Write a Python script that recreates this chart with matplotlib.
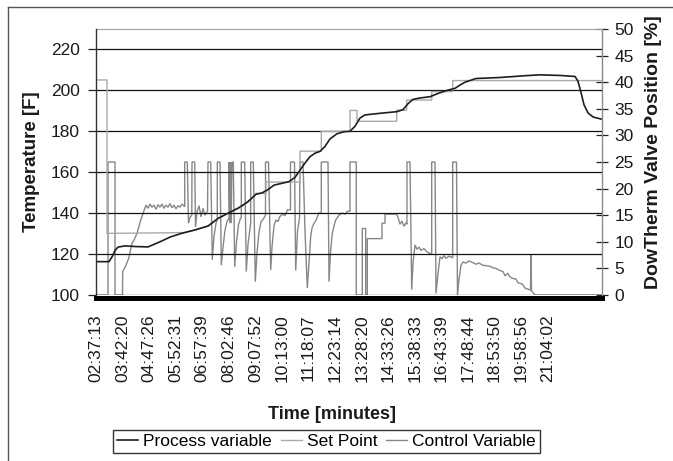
import matplotlib
matplotlib.use("Agg")
import matplotlib.pyplot as plt
from matplotlib.lines import Line2D
import numpy as np

plt.rcParams['font.family'] = ['Liberation Sans', 'DejaVu Sans']

# ---------------- data (time in minutes since 02:37:13) ----------------
tick_labels = ["02:37:13", "03:42:20", "04:47:26", "05:52:31", "06:57:39",
               "08:02:46", "09:07:52", "10:13:00", "11:18:07", "12:23:14",
               "13:28:20", "14:33:26", "15:38:33", "16:43:39", "17:48:44",
               "18:53:50", "19:58:56", "21:04:02"]

pv_t = [0, 31.9, 39.2, 46.6, 53.9, 71.1, 95.6, 127.4, 156.8, 181.3, 210.7, 242.6,
        274.4, 298.9, 323.4, 347.9, 372.4, 392, 406.7, 421.4, 436.1, 455.7, 472.9,
        487.6, 499.8, 512.1, 524.3, 536.6, 548.8, 561.1, 573.3, 590.5, 607.6, 622.3,
        634.6, 646.8, 659.1, 695.8, 737.5, 752.2, 764.4, 776.7, 793.8, 818.3, 837.9,
        860, 879.6, 891.8, 904.1, 931, 989.8, 1053.5, 1087.8, 1136.8, 1173.6, 1180.9,
        1188.3, 1195.6, 1205.4, 1217.7, 1237.3]
pv_val = [116.3, 116.3, 118.6, 121.8, 123.4, 124.0, 123.7, 123.5, 126.0, 128.3, 130.2, 131.8,
          133.7, 137.4, 140.0, 142.4, 145.6, 149.2, 149.9, 151.5, 153.7, 154.6, 155.4,
          157.5, 161.0, 164.5, 167.6, 169.3, 170.2, 172.6, 176.3, 178.8, 179.8, 180.0,
          182.5, 186.5, 188.0, 188.8, 189.6, 190.6, 193.5, 195.6, 196.3, 196.9, 198.5,
          200.0, 201.0, 202.6, 204.0, 205.8, 206.3, 207.2, 207.6, 207.3, 206.8, 204.5,
          199.0, 193.0, 189.0, 187.0, 186.0]

sp_t = [0, 26.95, 26.95, 218, 242.6, 274.4, 298.9, 323.4, 347.9, 364.3, 392, 416.5, 416.5,
        499.8, 499.8, 552, 552, 622.3, 622.3, 639.5, 639.5, 736.7, 736.7, 761.2, 761.2,
        822.5, 822.5, 873.9, 873.9, 1237.3]
sp_val = [205.1, 205.1, 130.1, 130.5, 131.8, 133.7, 137.4, 140.0, 142.4, 144.0, 149.7, 149.7, 155.2,
          155.2, 170.3, 170.3, 180.0, 180.0, 190.2, 190.2, 184.9, 184.9, 190.3, 190.3, 195.3,
          195.3, 199.4, 199.4, 204.8, 204.8]

cv_t = [0, 29.4, 29.4, 46.6, 46.6, 64.9, 65.4, 71.8, 80.1, 88.2, 93.1, 100.5, 108.5, 116.9,
        122.5, 127.4, 132.3, 137.2, 142.1, 147, 151.9, 156.8, 161.7, 166.6, 171.5, 176.4,
        181.3, 186.2, 191.1, 196, 200.9, 205.8, 210.7, 217.3, 217.3, 223.7, 226.6, 230.3,
        234.7, 235.2, 241.8, 243.8, 247.5, 252.4, 257.3, 262.2, 267.1, 273.2, 274.4, 281,
        284.9, 289.1, 294, 297.2, 297.2, 303.8, 307, 311.2, 316.1, 321, 325.9, 325.9, 327.8,
        329.5, 331.2, 333.2, 336.4, 339.8, 344.2, 349.1, 354, 356, 356, 364.3, 368.2, 372.4,
        379, 379, 385.4, 390.3, 394.5, 399.4, 404.3, 409.2, 415.3, 415.3, 422.6, 428, 431.2,
        436.1, 441, 445.9, 450.8, 458.2, 463.1, 469.2, 476.5, 476.5, 486.3, 489.3, 493.7,
        498.6, 499.8, 507.2, 512.1, 517.7, 521.9, 526, 529.2, 534.1, 539, 542.7, 546.4, 552,
        552, 568.4, 570.9, 574.5, 579, 583.1, 587.3, 595.4, 603.4, 610, 615.7, 622.3, 622.3,
        637.7, 637.7, 652.4, 652.4, 660.7, 660.7, 664.7, 664.7, 700.7, 700.7, 708.1, 708.1,
        736.7, 739.9, 744.8, 749.7, 754.6, 759.5, 761.9, 761.9, 769.3, 773.5, 776.7, 781.6,
        786.5, 791.4, 796.3, 803.6, 811, 818.3, 822.5, 822.5, 830.6, 833, 837.9, 842.8,
        847.7, 852.6, 857.5, 864.9, 873.9, 873.9, 883.2, 885.7, 889.4, 894.3, 899.2, 906.5,
        913.9, 922.9, 931, 938.4, 947.4, 955.5, 965.3, 972.7, 980, 989.8, 997.2, 1002.1,
        1008.7, 1014.3, 1021.7, 1029, 1033.9, 1038.8, 1045.4, 1051, 1058.4, 1064.5, 1065.8,
        1067, 1071.4, 1075.6, 1237.3]
cv_val = [0, 0, 25, 25, 0, 0, 4.4, 5.3, 6.9, 9.7, 10.3, 11.6, 13.8, 15.7,
          16.9, 16.3, 17.1, 16.5, 16.9, 16.1, 17.0, 16.5, 17.1, 16.3, 16.9, 16.5,
          17.2, 16.4, 16.9, 16.2, 16.8, 16.5, 17.1, 16.6, 25, 25, 13.5, 14.6,
          15.0, 25, 25, 12.8, 15.6, 16.8, 14.7, 16.3, 15.0, 15.8, 25, 25,
          6.6, 11.0, 13.5, 14.2, 25, 25, 5.6, 9.0, 12.2, 13.8, 14.5, 25, 13.5,
          25, 13.5, 25, 25, 5.3, 10.0, 13.2, 14.4, 14.6, 25, 25, 4.4, 9.5,
          13.5, 25, 25, 2.5, 8.0, 11.8, 13.8, 14.2, 15.0, 25, 25, 4.7, 9.0,
          13.0, 14.1, 13.8, 14.8, 15.2, 14.9, 16.0, 16.0, 25, 25, 4.6, 12.0,
          14.5, 25, 25, 12.0, 1.3, 6.0, 11.0, 12.6, 13.5, 14.0, 14.8, 15.4, 15.4,
          25, 25, 2.5, 8.0, 11.6, 13.0, 14.1, 15.0, 15.4, 15.2, 15.7, 15.8, 25,
          25, 0, 0, 12.5, 12.5, 0, 0, 10.6, 10.6, 13.5, 13.5, 15.2,
          15.2, 14.6, 13.3, 13.9, 12.9, 13.6, 13.3, 25, 25, 1.0, 6.0, 9.4,
          8.6, 9.0, 8.4, 8.7, 8.1, 7.8, 7.6, 25, 25, 0.3, 4.0, 7.2,
          6.8, 7.4, 6.9, 7.3, 7.0, 25, 25, 0, 3.0, 5.6, 6.2, 6.0,
          6.4, 6.1, 5.8, 6.0, 5.6, 5.5, 5.4, 5.1, 5.0, 4.6, 4.4, 3.6,
          4.1, 3.4, 3.1, 3.0, 2.3, 2.2, 2.0, 1.3, 1.1, 0.9, 7.5,
          0.8, 0.4, 0, 0]

series_names = ["Process variable", "Set Point", "Control Variable"]


def to_minutes(s):
    h, m, sec = (int(v) for v in s.split(":"))
    return h * 60 + m + sec / 60.0


tick_pos = [to_minutes(s) - to_minutes(tick_labels[0]) for s in tick_labels]

# ---------------- figure ----------------
W, H = 673, 461
fig = plt.figure(figsize=(W / 100, H / 100), dpi=100)
fig.patch.set_facecolor('white')

x0, x1, y0, y1 = 96, 601.7, 29, 295
ax = fig.add_axes([x0 / W, 1 - y1 / H, (x1 - x0) / W, (y1 - y0) / H])
ax2 = ax.twinx()

bg = '#e0ddd9'
ax2.patch.set_facecolor(bg)
ax.set_zorder(ax2.get_zorder() + 1)
ax.patch.set_visible(False)

pv_col, sp_col, cv_col = '#1e1e1e', '#a9a9a9', '#878787'

ax2.plot(cv_t, cv_val, color=cv_col, lw=1.0, solid_joinstyle='miter')
ax.plot(sp_t, sp_val, color=sp_col, lw=1.0)
ax.plot(pv_t, pv_val, color=pv_col, lw=1.2)

ax.set_xlim(0, 1239)
ax.set_ylim(100, 230)
ax2.set_ylim(0, 50)

ax.set_yticks(np.arange(100, 221, 20))
ax2.set_yticks(np.arange(0, 51, 5))
ax.yaxis.grid(True, color='#111111', lw=0.9)
ax.set_axisbelow(True)

ax.set_xticks(tick_pos)
ax.set_xticklabels(tick_labels)
ax.tick_params(axis='x', length=0, pad=12, labelrotation=90, labelsize=12.5,
               labelcolor='#1a1a1a')
ax.tick_params(axis='y', direction='out', length=6, width=0.9, color='#222222',
               labelsize=12.5, labelcolor='#1a1a1a', pad=5.5)
ax2.tick_params(axis='y', direction='inout', length=8, width=0.9, color='#222222',
                labelsize=12.5, labelcolor='#1a1a1a', pad=5)

for s in ['top', 'right']:
    ax.spines[s].set_visible(False)
ax.spines['left'].set_color('#333333')
ax.spines['left'].set_linewidth(1.0)
ax.spines['bottom'].set_color('black')
ax.spines['bottom'].set_linewidth(3.6)
ax.spines['bottom'].set_position(('outward', 1.8))
for s in ['left', 'bottom']:
    ax2.spines[s].set_visible(False)
ax2.spines['right'].set_color('#8a8a8a')
ax2.spines['right'].set_linewidth(1.0)
ax2.spines['top'].set_color('#a0a0a0')
ax2.spines['top'].set_linewidth(0.8)

# axis titles
fig.text(31.5 / W, 1 - 162 / H, "Temperature [F]", rotation=90, ha='center', va='center',
         fontsize=13.5, fontweight='bold', color='#1a1a1a')
fig.text(654 / W, 1 - 152 / H, "DowTherm Valve Position [%]", rotation=90, ha='center',
         va='center', fontsize=14, fontweight='bold', color='#1a1a1a')
fig.text(332 / W, 1 - 414 / H, "Time [minutes]", ha='center', va='center',
         fontsize=13, fontweight='bold', color='#1a1a1a')

handles = [Line2D([], [], color=pv_col, lw=1.2),
           Line2D([], [], color=sp_col, lw=1.0),
           Line2D([], [], color=cv_col, lw=1.0)]
leg = fig.legend(handles, series_names, loc='center', bbox_to_anchor=(326.5 / W, 1 - 441.5 / H),
                 ncol=3, frameon=True, fancybox=False, edgecolor='black', fontsize=12.5,
                 handlelength=1.2, handletextpad=0.3, columnspacing=0.5, borderpad=0.25,
                 borderaxespad=0)
leg.get_frame().set_linewidth(1.0)

# outer chart border
fig.add_artist(Line2D([8 / W, 1], [1 - 7 / H, 1 - 7 / H], transform=fig.transFigure,
                      color='#555555', lw=1.0))
fig.add_artist(Line2D([8 / W, 8 / W], [0, 1 - 7 / H], transform=fig.transFigure,
                      color='#555555', lw=1.0))

fig.savefig("out.png", dpi=100, facecolor='white')
